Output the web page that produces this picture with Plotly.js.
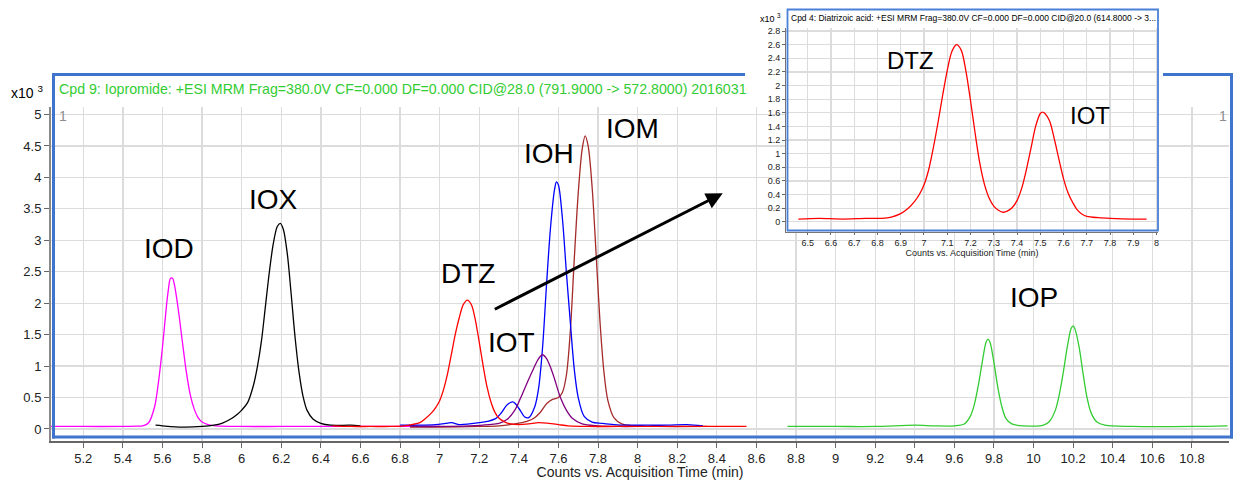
<!DOCTYPE html>
<html>
<head>
<meta charset="utf-8">
<script src="https://cdn.plot.ly/plotly-3.0.1.min.js"></script>
<style>html,body{margin:0;padding:0;background:#fff;}#chart{width:1235px;height:480px;}</style>
</head>
<body>
<div id="chart"></div>
<script>
// ---------- data (retention time in min, counts in x10^3) ----------
const iodT = [5.03, 5.20, 5.40, 5.47, 5.50, 5.53, 5.56, 5.58, 5.60, 5.62, 5.63, 5.64, 5.65, 5.66, 5.68, 5.70, 5.72, 5.74, 5.76, 5.78, 5.80, 5.83, 5.87, 6.00, 6.20, 6.40, 6.60, 6.80, 7.00];
const iodY = [0.04, 0.04, 0.04, 0.045, 0.05, 0.10, 0.35, 0.75, 1.30, 1.95, 2.22, 2.39, 2.40, 2.30, 1.90, 1.40, 0.92, 0.55, 0.32, 0.18, 0.11, 0.07, 0.05, 0.04, 0.04, 0.04, 0.04, 0.04, 0.04];

const ioxT = [5.565, 5.60, 5.70, 5.80, 5.86, 5.90, 5.94, 5.98, 6.00, 6.03, 6.06, 6.08, 6.10, 6.12, 6.14, 6.16, 6.18, 6.195, 6.21, 6.23, 6.25, 6.27, 6.29, 6.31, 6.33, 6.36, 6.40, 6.45, 6.55, 6.60];
const ioxY = [0.06, 0.05, 0.03, 0.04, 0.06, 0.09, 0.15, 0.24, 0.30, 0.42, 0.70, 1.00, 1.40, 1.95, 2.50, 2.95, 3.22, 3.27, 3.18, 2.80, 2.15, 1.45, 0.90, 0.52, 0.30, 0.16, 0.09, 0.06, 0.06, 0.05];

const iomT = [6.85, 7.00, 7.20, 7.30, 7.38, 7.44, 7.48, 7.51, 7.54, 7.57, 7.60, 7.62, 7.64, 7.66, 7.68, 7.70, 7.72, 7.735, 7.75, 7.77, 7.79, 7.81, 7.83, 7.85, 7.88, 7.92, 7.98, 8.10, 8.35];
const iomY = [0.03, 0.03, 0.04, 0.05, 0.08, 0.12, 0.18, 0.27, 0.40, 0.47, 0.50, 0.58, 0.85, 1.55, 2.70, 3.75, 4.45, 4.66, 4.50, 3.85, 2.80, 1.70, 0.90, 0.45, 0.18, 0.08, 0.05, 0.04, 0.04];

const iohT = [6.80, 6.90, 6.98, 7.03, 7.06, 7.10, 7.15, 7.20, 7.24, 7.28, 7.31, 7.34, 7.37, 7.40, 7.43, 7.45, 7.48, 7.50, 7.52, 7.54, 7.56, 7.58, 7.59, 7.60, 7.62, 7.64, 7.66, 7.68, 7.70, 7.73, 7.77, 7.82, 7.88, 7.95, 8.05, 8.15, 8.25, 8.33];
const iohY = [0.06, 0.06, 0.07, 0.09, 0.10, 0.07, 0.08, 0.10, 0.12, 0.16, 0.25, 0.38, 0.43, 0.33, 0.19, 0.18, 0.35, 0.65, 1.30, 2.30, 3.20, 3.80, 3.93, 3.88, 3.35, 2.50, 1.70, 0.95, 0.50, 0.20, 0.11, 0.09, 0.07, 0.06, 0.06, 0.06, 0.07, 0.05];

const iotT = [6.85, 7.00, 7.15, 7.25, 7.30, 7.34, 7.38, 7.41, 7.44, 7.47, 7.50, 7.52, 7.54, 7.56, 7.58, 7.61, 7.64, 7.67, 7.72, 7.80, 7.90, 8.00];
const iotY = [0.04, 0.04, 0.05, 0.07, 0.09, 0.15, 0.30, 0.50, 0.72, 0.93, 1.12, 1.18, 1.12, 0.98, 0.80, 0.50, 0.30, 0.17, 0.08, 0.05, 0.04, 0.04];

const dtzT = [6.46, 6.55, 6.65, 6.75, 6.82, 6.86, 6.90, 6.93, 6.96, 6.98, 7.00, 7.02, 7.04, 7.06, 7.08, 7.10, 7.12, 7.14, 7.16, 7.18, 7.20, 7.22, 7.24, 7.26, 7.28, 7.30, 7.33, 7.36, 7.40, 7.45, 7.50, 7.55, 7.60, 7.65, 7.75, 7.90, 8.10, 8.30, 8.55];
const dtzY = [0.05, 0.04, 0.04, 0.04, 0.05, 0.07, 0.10, 0.17, 0.26, 0.34, 0.45, 0.63, 0.88, 1.20, 1.52, 1.78, 1.98, 2.05, 1.98, 1.74, 1.38, 1.00, 0.66, 0.42, 0.26, 0.17, 0.11, 0.08, 0.07, 0.08, 0.10, 0.09, 0.07, 0.05, 0.04, 0.04, 0.04, 0.04, 0.04];

const iopT = [8.757, 9.00, 9.20, 9.40, 9.50, 9.60, 9.65, 9.68, 9.70, 9.72, 9.74, 9.76, 9.77, 9.78, 9.80, 9.82, 9.84, 9.86, 9.89, 9.95, 10.05, 10.08, 10.11, 10.13, 10.15, 10.17, 10.19, 10.20, 10.21, 10.23, 10.25, 10.27, 10.29, 10.32, 10.36, 10.50, 10.80, 10.98];
const iopY = [0.04, 0.04, 0.04, 0.06, 0.05, 0.05, 0.08, 0.20, 0.38, 0.68, 1.05, 1.38, 1.43, 1.38, 1.05, 0.65, 0.35, 0.17, 0.08, 0.05, 0.06, 0.12, 0.30, 0.55, 0.90, 1.30, 1.60, 1.64, 1.58, 1.30, 0.88, 0.50, 0.26, 0.11, 0.06, 0.04, 0.04, 0.05];

// inset: Cpd 4 Diatrizoic acid transition
const insT = [6.46, 6.55, 6.65, 6.75, 6.82, 6.86, 6.90, 6.93, 6.96, 6.98, 7.00, 7.02, 7.04, 7.06, 7.08, 7.10, 7.12, 7.14, 7.16, 7.18, 7.20, 7.22, 7.24, 7.26, 7.28, 7.30, 7.32, 7.34, 7.36, 7.38, 7.40, 7.42, 7.44, 7.46, 7.48, 7.50, 7.51, 7.52, 7.54, 7.56, 7.58, 7.60, 7.62, 7.64, 7.66, 7.68, 7.70, 7.75, 7.80, 7.90, 7.957];
const insY = [0.04, 0.05, 0.04, 0.05, 0.05, 0.07, 0.12, 0.19, 0.30, 0.40, 0.54, 0.76, 1.08, 1.45, 1.85, 2.22, 2.50, 2.60, 2.52, 2.22, 1.78, 1.30, 0.86, 0.55, 0.35, 0.23, 0.17, 0.14, 0.16, 0.21, 0.31, 0.49, 0.76, 1.08, 1.40, 1.59, 1.61, 1.59, 1.48, 1.22, 0.92, 0.63, 0.42, 0.28, 0.17, 0.11, 0.08, 0.06, 0.05, 0.04, 0.04];

const peakNames = ['IOD', 'IOX', 'DTZ', 'IOT', 'IOH', 'IOM', 'IOP'];
const peakLabelT = [5.632, 6.159, 7.145, 7.361, 7.553, 7.972, 10.003];
const peakLabelY = [2.865, 3.649, 2.467, 1.383, 4.377, 4.773, 2.091];
const insetNames = ['DTZ', 'IOT'];
const insetLabelT = [6.941, 7.713];
const insetLabelY = [2.368, 1.558];

const mainTitle = 'Cpd 9: Iopromide: +ESI MRM Frag=380.0V CF=0.000 DF=0.000 CID@28.0 (791.9000 -&gt; 572.8000) 20160310';
const insetTitle = 'Cpd 4: Diatrizoic acid: +ESI MRM Frag=380.0V CF=0.000 DF=0.000 CID@20.0 (614.8000 -&gt; 3...';
const xTitle = 'Counts vs. Acquisition Time (min)';

// ---------- layout helpers ----------
const W = 1235, H = 480;
const px = v => v / W;
const py = v => 1 - v / H;
const FONT = 'Liberation Sans, Arial, Helvetica, sans-serif';

function line(t, y, color, ax) {
  return {x: t, y: y, type: 'scatter', mode: 'lines', xaxis: ax ? 'x3' : 'x', yaxis: ax ? 'y3' : 'y',
    line: {color: color, width: 1.3, shape: 'spline', smoothing: 0.9}, hoverinfo: 'skip'};
}

const traces = [
  line(iodT, iodY, '#ff00ff'),
  line(ioxT, ioxY, '#000000'),
  line(iomT, iomY, '#a52a2a'),
  line(iohT, iohY, '#0000ff'),
  line(iotT, iotY, '#800080'),
  line(dtzT, dtzY, '#ff0000'),
  line(iopT, iopY, '#33cc33'),
  line(insT, insY, '#ff0000', true)
];

const annotations = [];
peakNames.forEach((n, i) => annotations.push({xref: 'x', yref: 'y', x: peakLabelT[i], y: peakLabelY[i], text: n,
  showarrow: false, xanchor: 'center', yanchor: 'middle', font: {size: 28, color: '#000', family: FONT}}));
insetNames.forEach((n, i) => annotations.push({xref: 'x3', yref: 'y3', x: insetLabelT[i], y: insetLabelY[i], text: n,
  showarrow: false, xanchor: 'center', yanchor: 'middle', font: {size: 24, color: '#000', family: FONT}}));
annotations.push(
  {xref: 'paper', yref: 'paper', x: px(57), y: py(89), xanchor: 'left', yanchor: 'middle', align: 'left',
   text: mainTitle, showarrow: false, width: 745 - 57, font: {size: 14.2, color: '#33cc33', family: FONT}},
  {xref: 'paper', yref: 'paper', x: px(9), y: py(92), xanchor: 'left', yanchor: 'middle',
   text: 'x10 <sup>3</sup>', showarrow: false, font: {size: 14, color: '#000', family: FONT}},
  {xref: 'paper', yref: 'paper', x: px(57), y: py(116), xanchor: 'left', yanchor: 'middle',
   text: '1', showarrow: false, font: {size: 14, color: '#8c8c8c', family: FONT}},
  {xref: 'paper', yref: 'paper', x: px(1229), y: py(116), xanchor: 'right', yanchor: 'middle',
   text: '1', showarrow: false, font: {size: 14, color: '#8c8c8c', family: FONT}},
  {xref: 'paper', yref: 'paper', x: px(789), y: py(18), xanchor: 'left', yanchor: 'middle', align: 'left',
   text: insetTitle, showarrow: false, font: {size: 8.5, color: '#000', family: FONT}},
  {xref: 'paper', yref: 'paper', x: px(758), y: py(18), xanchor: 'left', yanchor: 'middle',
   text: 'x10 <sup>3</sup>', showarrow: false, font: {size: 9, color: '#000', family: FONT}},
  {xref: 'x', yref: 'y', x: 8.43, y: 3.747, axref: 'x', ayref: 'y', ax: 7.271, ay: 1.892, text: '',
   showarrow: true, arrowhead: 2, arrowsize: 1.1, arrowwidth: 3, arrowcolor: '#000'}
);

const BLUE = '#3f75cc';
const shapes = [
  // main frame (top edge hidden behind the inset panel)
  {type: 'line', xref: 'paper', yref: 'paper', x0: px(53.5), x1: px(53.5), y0: py(73), y1: py(438.5), line: {color: BLUE, width: 3}},
  {type: 'line', xref: 'paper', yref: 'paper', x0: px(52), x1: px(1233), y0: py(437), y1: py(437), line: {color: BLUE, width: 3}},
  {type: 'line', xref: 'paper', yref: 'paper', x0: px(1231.5), x1: px(1231.5), y0: py(73), y1: py(438.5), line: {color: BLUE, width: 3}},
  {type: 'line', xref: 'paper', yref: 'paper', x0: px(52), x1: px(745), y0: py(74.5), y1: py(74.5), line: {color: BLUE, width: 3}},
  {type: 'line', xref: 'paper', yref: 'paper', x0: px(1163), x1: px(1233), y0: py(74.5), y1: py(74.5), line: {color: BLUE, width: 3}},
  // inset frame
  {type: 'rect', xref: 'paper', yref: 'paper', x0: px(787.5), x1: px(1158), y0: py(9.5), y1: py(230.5), line: {color: '#4a80d8', width: 1.8}}
];

const GRID = '#dcdcdc';
const layout = {
  width: W, height: H, margin: {l: 0, r: 0, t: 0, b: 0},
  paper_bgcolor: '#ffffff', plot_bgcolor: '#ffffff', showlegend: false,
  font: {family: FONT, color: '#222'},
  xaxis: {domain: [px(51), px(1229)], range: [5.037, 10.987], anchor: 'y', tick0: 0, dtick: 0.2,
    showgrid: true, gridcolor: GRID, gridwidth: 1.3, zeroline: false,
    showline: true, linecolor: '#666', linewidth: 1.5, ticks: 'outside', ticklen: 5, tickcolor: '#666',
    tickfont: {size: 13, color: '#222'},
    title: {text: xTitle, font: {size: 14, color: '#222'}, standoff: 3}},
  yaxis: {domain: [py(441), py(107)], range: [-0.191, 5.119], anchor: 'x', tick0: 0, dtick: 0.5,
    showgrid: true, gridcolor: GRID, gridwidth: 1.3, zeroline: false,
    showline: true, linecolor: '#8a8a8a', linewidth: 2, ticks: 'outside', ticklen: 5, tickcolor: '#666',
    tickfont: {size: 13, color: '#222'}},
  // white panel behind the inset (covers the main chart)
  xaxis2: {domain: [px(745), px(1163)], anchor: 'y2', range: [0, 1], visible: false},
  yaxis2: {domain: [py(256), 1], anchor: 'x2', range: [0, 1], visible: false},
  // inset axes
  xaxis3: {domain: [px(786), px(1158)], range: [6.407, 8.006], anchor: 'y3', tick0: 0, dtick: 0.1,
    showgrid: true, gridcolor: GRID, gridwidth: 1.2, zeroline: false,
    showline: true, linecolor: '#777', linewidth: 1, ticks: 'outside', ticklen: 2, tickcolor: '#666',
    tickfont: {size: 9, color: '#222'},
    title: {text: xTitle, font: {size: 9, color: '#222'}, standoff: 0}},
  yaxis3: {domain: [py(232), py(28.3)], range: [-0.15, 2.84], anchor: 'x3', tick0: 0, dtick: 0.2,
    showgrid: true, gridcolor: GRID, gridwidth: 1.2, zeroline: false,
    showline: true, linecolor: '#777', linewidth: 1, ticks: 'outside', ticklen: 3, tickcolor: '#666',
    tickfont: {size: 9, color: '#222'}},
  annotations: annotations,
  shapes: shapes
};

Plotly.newPlot('chart', traces, layout, {staticPlot: true, displayModeBar: false});
</script>
</body>
</html>
